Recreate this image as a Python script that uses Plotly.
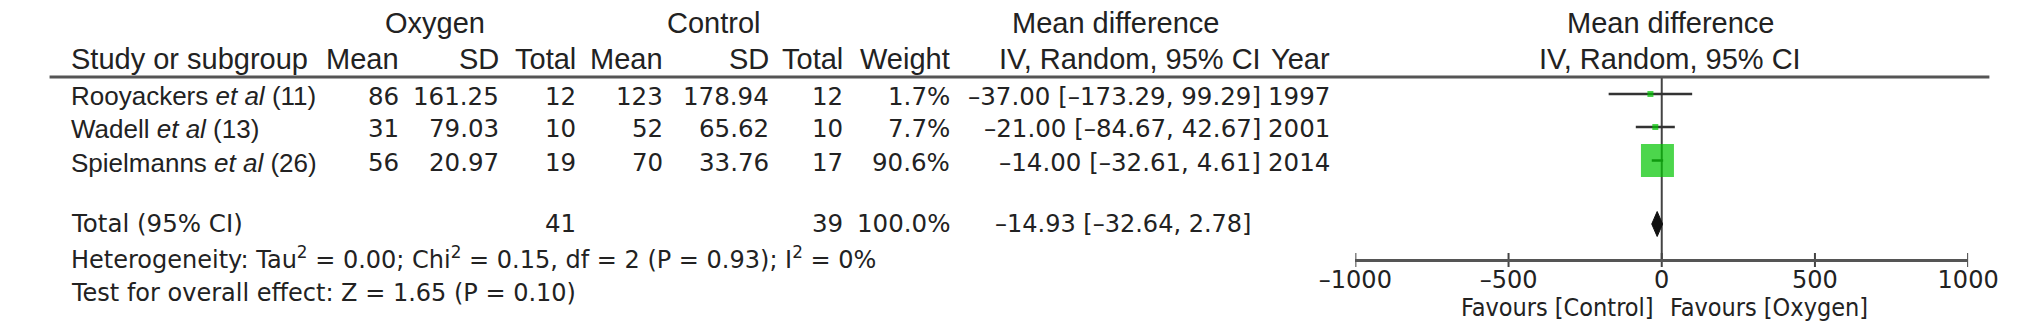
import plotly.graph_objects as go

# table data
studies = ["Rooyackers <i>et al</i> (11)", "Wadell <i>et al</i> (13)", "Spielmanns <i>et al</i> (26)"]
oxy_mean = [86, 31, 56]
oxy_sd = ["161.25", "79.03", "20.97"]
oxy_total = [12, 10, 19]
ctl_mean = [123, 52, 70]
ctl_sd = ["178.94", "65.62", "33.76"]
ctl_total = [12, 10, 17]
weight = [1.7, 7.7, 90.6]
md = [-37.00, -21.00, -14.00]
ci_lo = [-173.29, -84.67, -32.61]
ci_hi = [99.29, 42.67, 4.61]
year = [1997, 2001, 2014]

tot_oxy = 41
tot_ctl = 39
tot_weight = 100.0
pooled = -14.93
pooled_lo = -32.64
pooled_hi = 2.78

het_text = "Heterogeneity: Tau<sup>2</sup> = 0.00; Chi<sup>2</sup> = 0.15, df = 2 (P = 0.93); I<sup>2</sup> = 0%"
effect_text = "Test for overall effect: Z = 1.65 (P = 0.10)"

tick_vals = [-1000, -500, 0, 500, 1000]
tick_text = ["\u20131000", "\u2013500", "0", "500", "1000"]

# layout (pixels)
W, H = 2032, 332
row_y = [94, 127, 160.5]
total_y = 224
head1_y, head2_y, rule_y = 23, 59, 77
axis_y = 260
col = dict(study=33, om=377, osd=480, ot=560, cm=650, csd=759, ct=836,
           w=947, ci=1268, yr=1340)

HEAD = dict(family="Liberation Sans, Arial, sans-serif", size=29, color="#222")
STUDY = dict(family="Liberation Sans, Arial, sans-serif", size=26, color="#222")
NUM = dict(family="DejaVu Sans, sans-serif", size=24.5, color="#222")
SMALL = dict(family="DejaVu Sans, sans-serif", size=24, color="#222")
COND = dict(family="DejaVu Sans Condensed, DejaVu Sans, sans-serif", size=25, color="#222")


def px(x):
    return x / W


def py(y):
    return 1 - y / H


def num(v):
    return f"{v:.2f}".replace("-", "\u2013")


ann = []


def text(x, y, s, anchor="right", font=NUM):
    ann.append(dict(x=px(x), y=py(y), xref="paper", yref="paper", text=s,
                    showarrow=False, xanchor=anchor, yanchor="middle", font=font))


# headers
text(412, head1_y, "Oxygen", "center", HEAD)
text(700, head1_y, "Control", "center", HEAD)
text(1116, head1_y, "Mean difference", "center", HEAD)
text(1690, head1_y, "Mean difference", "center", HEAD)
text(col["study"], head2_y, "Study or subgroup", "left", HEAD)
for k, s in [("om", "Mean"), ("osd", "SD"), ("ot", "Total"), ("cm", "Mean"),
             ("csd", "SD"), ("ct", "Total"), ("w", "Weight"),
             ("ci", "IV, Random, 95% CI"), ("yr", "Year")]:
    text(col[k], head2_y, s, "right", HEAD)
text(1690, head2_y, "IV, Random, 95% CI", "center", HEAD)

# study rows
for i, y in enumerate(row_y):
    yt = y + 2
    text(col["study"], yt, studies[i], "left", STUDY)
    text(col["om"], yt, str(oxy_mean[i]))
    text(col["osd"], yt, oxy_sd[i])
    text(col["ot"], yt, str(oxy_total[i]))
    text(col["cm"], yt, str(ctl_mean[i]))
    text(col["csd"], yt, ctl_sd[i])
    text(col["ct"], yt, str(ctl_total[i]))
    text(col["w"], yt, f"{weight[i]:.1f}%")
    text(col["ci"], yt, f"{num(md[i])} [{num(ci_lo[i])}, {num(ci_hi[i])}]")
    text(col["yr"], yt, str(year[i]))

# total row
text(col["study"], total_y, "Total (95% CI)", "left")
text(col["ot"], total_y, str(tot_oxy))
text(col["ct"], total_y, str(tot_ctl))
text(col["w"], total_y, f"{tot_weight:.1f}%")
text(col["ci"] - 10, total_y, f"{num(pooled)} [{num(pooled_lo)}, {num(pooled_hi)}]", font=SMALL)
text(col["study"], 258, het_text, "left", SMALL)
text(col["study"], 293, effect_text, "left", SMALL)

# favours labels
for s, anchor, shift in [("Favours [Control]", "right", -6), ("Favours [Oxygen]", "left", 6)]:
    ann.append(dict(x=0, y=py(307), xref="x", yref="paper", text=s, showarrow=False,
                    xanchor=anchor, yanchor="middle", xshift=shift, font=COND))

fig = go.Figure()

# line of no effect
fig.add_trace(go.Scatter(x=[0, 0], y=[rule_y, axis_y], mode="lines",
                         line=dict(color="#444", width=2), hoverinfo="skip"))

# confidence intervals
cx, cy = [], []
for lo, hi, y in zip(ci_lo, ci_hi, row_y):
    cx += [lo, hi, None]
    cy += [y, y, None]
fig.add_trace(go.Scatter(x=cx, y=cy, mode="lines",
                         line=dict(color="#333", width=2.5), hoverinfo="skip"))

# weighted squares
sizes = [max(6, 33 * w / max(weight)) for w in weight]
fig.add_trace(go.Scatter(x=md, y=row_y, mode="markers",
                         marker=dict(symbol="square", size=sizes, color="#00c400",
                                     line=dict(width=0))))

# pooled diamond
dh = 12.5
fig.add_trace(go.Scatter(x=[pooled_lo, pooled, pooled_hi, pooled, pooled_lo],
                         y=[total_y, total_y - dh, total_y, total_y + dh, total_y],
                         mode="lines", fill="toself", fillcolor="#111",
                         line=dict(color="#111", width=1)))

# axis tick marks (crossing the axis line)
tx, ty = [], []
for v in tick_vals:
    tx += [v, v, None]
    ty += [axis_y - 7, axis_y + 7, None]
fig.add_trace(go.Scatter(x=tx, y=ty, mode="lines", line=dict(color="#444", width=2),
                         hoverinfo="skip"))

fig.update_layout(
    width=W, height=H, margin=dict(l=0, r=0, t=0, b=0),
    paper_bgcolor="white", plot_bgcolor="white", showlegend=False,
    annotations=ann,
    shapes=[dict(type="line", xref="paper", yref="paper", x0=px(13), x1=px(2020),
                 y0=py(rule_y), y1=py(rule_y), line=dict(color="#555", width=3))],
    xaxis=dict(domain=[px(1364), px(1998)], range=[-1000, 1000], anchor="free",
               position=py(axis_y), showline=True, linecolor="#555", linewidth=3,
               tickvals=tick_vals, ticktext=tick_text, ticks="", ticklabelstandoff=-3,
               tickfont=SMALL, showgrid=False, zeroline=False, fixedrange=True),
    yaxis=dict(domain=[0, 1], range=[H, 0], visible=False, fixedrange=True),
)

# drop the default page margin so the figure sits at the window's top-left corner
fig.write_html("out.html", config={"displayModeBar": False},
               post_script="document.body.style.margin='0';document.body.style.overflow='hidden';")
